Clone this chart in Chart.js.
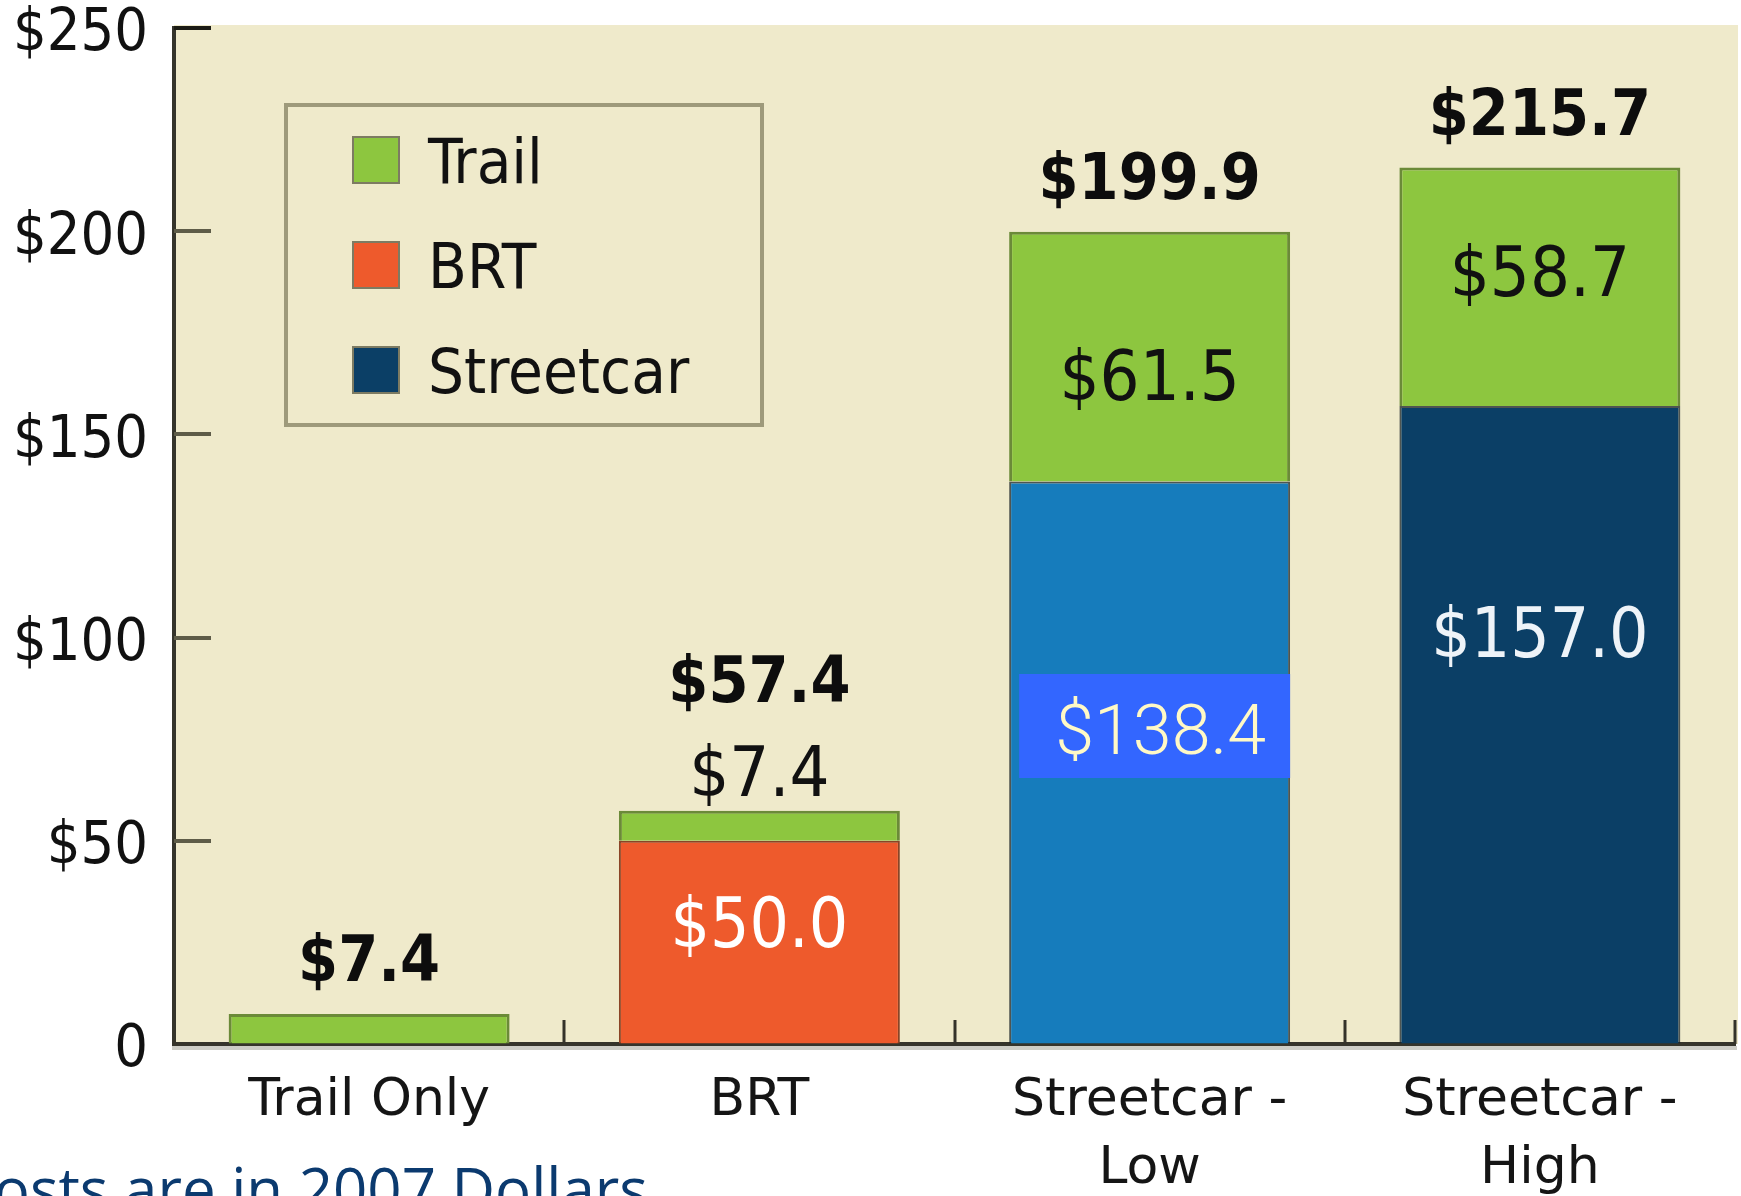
<!DOCTYPE html>
<html>
<head>
<meta charset="utf-8">
<script src="https://cdn.jsdelivr.net/npm/chart.js@4.4.0/dist/chart.umd.min.js"></script>
<style>
  html, body { margin: 0; padding: 0; background: #ffffff; overflow: hidden; }
  #wrap { position: relative; width: 1741px; height: 1196px; overflow: hidden; }
  #c { position: absolute; left: 0; top: 0; width: 1741px; height: 1196px; }
  #note { position: absolute; left: -44px; top: 1158px; font: 60px "Open Sans", sans-serif; color: #0b3a6f; white-space: nowrap; line-height: 1; }
</style>
</head>
<body>
<div id="wrap">
  <canvas id="c" width="1741" height="1196"></canvas>
  <div id="note"></div>
</div>
<script>
// ---------------- data ----------------
const categories = ['Trail Only', 'BRT', ['Streetcar -', 'Low'], ['Streetcar -', 'High']];
const seriesNames = ['Trail', 'BRT', 'Streetcar'];
const trailValues = [7.4, 7.4, 61.5, 58.7];
const brtValues = [null, 50.0, null, null];
const streetcarValues = [null, null, 138.4, 157.0];
const totalValues = [7.4, 57.4, 199.9, 215.7];
const yTickValues = [0, 50, 100, 150, 200, 250];
const yTickLabels = ['0', '$50', '$100', '$150', '$200', '$250'];
const noteText = 'Costs are in 2007 Dollars';

// ---------------- styles ----------------
const COND = "'DejaVu Sans Condensed', 'Liberation Sans Narrow', 'DejaVu Sans', sans-serif";
const PLOT_BG = '#efeacb';
const GREEN = '#8dc63f', ORANGE = '#ee5a2c', NAVY = '#0b3f66', LIGHTBLUE = '#167cbc';

document.getElementById('note').textContent = noteText;

function fmt(v) { return '$' + v.toFixed(1); }

function drawCentered(ctx, text, x, cy, font, size, color, capRatio) {
  ctx.font = font;
  ctx.fillStyle = color;
  ctx.textAlign = 'center';
  ctx.textBaseline = 'alphabetic';
  ctx.fillText(text, x, cy + size * (capRatio || 0.729) / 2);
}

const plotBackground = {
  id: 'plotBackground',
  beforeDraw(chart) {
    const { ctx, chartArea: a } = chart;
    ctx.save();
    ctx.fillStyle = PLOT_BG;
    ctx.fillRect(a.left, a.top - 3, a.right - a.left + 3, a.bottom - a.top + 3);
    ctx.fillStyle = '#cdcdc6';
    ctx.fillRect(a.left - 2, a.bottom + 2, a.right - a.left + 4, 4);
    ctx.restore();
  }
};

const innerTicks = {
  id: 'innerTicks',
  afterDraw(chart) {
    const { ctx, chartArea: a } = chart;
    const xs = chart.scales.x, ys = chart.scales.y;
    ctx.save();
    ctx.lineWidth = 4;
    yTickValues.forEach(v => {
      if (v === 0) return;
      const py = Math.round(ys.getPixelForValue(v));
      ctx.strokeStyle = v === ys.max ? '#1b1b14' : '#5e5c48';
      ctx.beginPath();
      ctx.moveTo(a.left, py);
      ctx.lineTo(a.left + 37, py);
      ctx.stroke();
    });
    ctx.lineWidth = 3;
    ctx.strokeStyle = '#34332a';
    for (let i = 0; i < categories.length; i++) {
      const px = Math.round(xs.getPixelForValue(i + 0.5));
      ctx.beginPath();
      ctx.moveTo(px, a.bottom);
      ctx.lineTo(px, a.bottom - 24);
      ctx.stroke();
    }
    ctx.restore();
  }
};

const boxLegend = {
  id: 'boxLegend',
  afterDraw(chart, args, opts) {
    const ctx = chart.ctx;
    ctx.save();
    ctx.strokeStyle = '#9e9a7b';
    ctx.lineWidth = 4;
    ctx.strokeRect(opts.left, opts.top, opts.width, opts.height);
    seriesNames.forEach((name, i) => {
      const ds = chart.data.datasets.find(d => d.label === name);
      const cy = opts.top + opts.firstOffset + i * opts.gap;
      ctx.fillStyle = ds.legendColor;
      ctx.fillRect(opts.left + opts.swatchX, cy - opts.swatch / 2, opts.swatch, opts.swatch);
      ctx.strokeStyle = '#7d7b62';
      ctx.lineWidth = 2;
      ctx.strokeRect(opts.left + opts.swatchX, cy - opts.swatch / 2, opts.swatch, opts.swatch);
      ctx.font = `${opts.fontSize}px ${COND}`;
      ctx.fillStyle = '#111111';
      ctx.textAlign = 'left';
      ctx.textBaseline = 'alphabetic';
      ctx.fillText(name, opts.left + opts.textX, cy + opts.fontSize * 0.729 / 2);
    });
    ctx.restore();
  }
};

const dataLabels = {
  id: 'dataLabels',
  afterDatasetsDraw(chart) {
    const ctx = chart.ctx;
    const n = categories.length;
    const tops = new Array(n).fill(Infinity);
    const counts = new Array(n).fill(0);
    const aboveUsed = new Array(n).fill(false);
    chart.data.datasets.forEach((ds, di) => {
      chart.getDatasetMeta(di).data.forEach((bar, j) => {
        if (ds.data[j] == null) return;
        tops[j] = Math.min(tops[j], bar.y);
        counts[j]++;
      });
    });
    ctx.save();
    chart.data.datasets.forEach((ds, di) => {
      const st = ds.labelStyle;
      chart.getDatasetMeta(di).data.forEach((bar, j) => {
        const v = ds.data[j];
        if (v == null || counts[j] < 2) return;
        const h = bar.base - bar.y;
        const text = fmt(v);
        if (h < 80) {
          drawCentered(ctx, text, bar.x, tops[j] - 40, `${st.size}px ${COND}`, st.size, '#111111');
          aboveUsed[j] = true;
          return;
        }
        const anchor = Array.isArray(st.anchor) ? st.anchor[j] : st.anchor;
        const cy = bar.base - anchor * h;
        const boxColor = st.boxes ? st.boxes[j] : null;
        if (boxColor) {
          const left = bar.x - bar.width / 2 + 10, right = bar.x + bar.width / 2;
          ctx.fillStyle = boxColor;
          ctx.fillRect(left, cy - 52, right - left, 104);
          drawCentered(ctx, text, (left + right) / 2 + 6, cy + 3, `300 ${st.boxSize}px Roboto, ${COND}`, st.boxSize, st.colors[j], 0.711);
        } else {
          const color = Array.isArray(st.colors) ? st.colors[j] : st.colors;
          drawCentered(ctx, text, bar.x, cy, `${st.size}px ${COND}`, st.size, color);
        }
      });
    });
    for (let j = 0; j < n; j++) {
      const cy = tops[j] - (aboveUsed[j] ? 132 : 56);
      const xPix = chart.scales.x.getPixelForValue(j);
      drawCentered(ctx, fmt(totalValues[j]), xPix, cy, `bold 64px ${COND}`, 64, '#0d0d0d');
    }
    ctx.restore();
  }
};

new Chart(document.getElementById('c'), {
  type: 'bar',
  data: {
    labels: categories,
    datasets: [
      {
        label: 'BRT', data: brtValues,
        backgroundColor: ORANGE, borderColor: '#8a4426', borderWidth: 2,
        legendColor: ORANGE,
        labelStyle: { size: 69, anchor: 0.6, colors: '#ffffff' }
      },
      {
        label: 'Streetcar', data: streetcarValues,
        backgroundColor: [NAVY, NAVY, LIGHTBLUE, NAVY], borderColor: 'rgba(25,35,40,0.75)', borderWidth: 2,
        legendColor: NAVY,
        labelStyle: { size: 69, boxSize: 70, anchor: [0.6, 0.6, 0.565, 0.645], colors: ['#eef3f8', '#eef3f8', '#fff9c6', '#eef3f8'], boxes: [null, null, '#3366ff', null] }
      },
      {
        label: 'Trail', data: trailValues,
        backgroundColor: GREEN, borderColor: '#6b8a38', borderWidth: 3,
        legendColor: GREEN,
        labelStyle: { size: 70, anchor: [0.5, 0.5, 0.43, 0.57], colors: '#111111' }
      }
    ]
  },
  options: {
    responsive: false,
    animation: false,
    devicePixelRatio: 1,
    layout: { padding: { top: 0, right: 6, bottom: 0, left: 0 } },
    plugins: {
      legend: { display: false },
      tooltip: { enabled: false },
      boxLegend: { left: 286, top: 105, width: 476, height: 320, firstOffset: 55, gap: 105, swatchX: 67, swatch: 46, textX: 142, fontSize: 63 }
    },
    scales: {
      x: {
        stacked: true,
        afterFit: s => { s.height = 152; },
        ticks: {
          color: '#151515', padding: 24, maxRotation: 0, autoSkip: false,
          font: { family: "'DejaVu Sans', sans-serif", size: 52, lineHeight: 1.3 }
        },
        grid: { display: true, drawOnChartArea: false, drawTicks: false, color: 'rgba(0,0,0,0)' },
        border: { display: true, color: '#35342b', width: 4 }
      },
      y: {
        stacked: true, min: 0, max: 250,
        afterBuildTicks: s => { s.ticks = yTickValues.map(v => ({ value: v })); },
        afterFit: s => { s.width = 174; },
        ticks: {
          color: '#111111', padding: 0, labelOffset: 7,
          callback: v => yTickLabels[yTickValues.indexOf(v)],
          font: { family: COND, size: 59, lineHeight: 0.95 }
        },
        grid: { display: true, drawOnChartArea: false, drawTicks: true, tickLength: 26, color: 'rgba(0,0,0,0)' },
        border: { display: true, color: '#35342b', width: 4 }
      }
    }
  },
  plugins: [plotBackground, innerTicks, boxLegend, dataLabels]
});
</script>
</body>
</html>
